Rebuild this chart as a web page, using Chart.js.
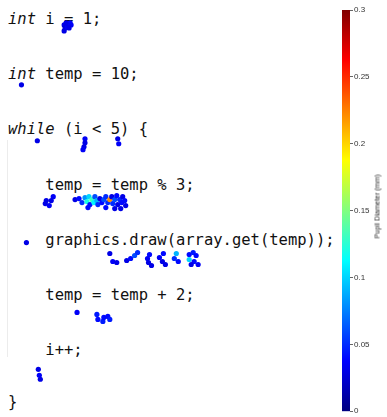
<!DOCTYPE html>
<html>
<head>
<meta charset="utf-8">
<script src="https://cdn.jsdelivr.net/npm/chart.js@4.4.0/dist/chart.umd.min.js"></script>
<style>
    html, body { margin: 0; padding: 0; background: #fff; }
    #wrap { position: relative; width: 387px; height: 417px; overflow: hidden; }
    .code {
        position: absolute;
        font-family: "DejaVu Sans Mono", monospace;
        font-size: 15.5px;
        line-height: 15.5px;
        color: #111;
        white-space: pre;
    }
    .kw { font-style: italic; }
    #block { position: absolute; left: 7px; top: 140px; width: 0; height: 217px; border-left: 1px solid #ececec; }
    #chart { position: absolute; left: 0; top: 0; }
    #cb-title {
        position: absolute;
        left: 327px; top: 203px; width: 100px;
        text-align: center;
        font-family: "Liberation Sans", Arial, sans-serif;
        font-size: 7px; color: #222;
        transform: rotate(-90deg);
    }
</style>
</head>
<body>
<div id="wrap">
    <div id="block"></div>
    <div id="code"></div>
    <canvas id="chart" width="387" height="417"></canvas>
    <div id="cb-title">Pupil Diameter (mm)</div>
</div>
<script>
// ===== DATA =====

// code lines shown under the fixations: [indent level, keyword, rest]
const codeLines = [
    [0, 'int', ' i = 1;'],
    [0, 'int', ' temp = 10;'],
    [0, 'while', ' (i < 5) {'],
    [1, '', 'temp = temp % 3;'],
    [1, '', 'graphics.draw(array.get(temp));'],
    [1, '', 'temp = temp + 2;'],
    [1, '', 'i++;'],
    [0, '', '}']
];

// fixation positions (px) and pupil diameter (mm)
const fixX = [
    62, 63, 62, 65, 66, 68, 69, 67, 64,                          // int i = 1;
    19,                                                          // int temp = 10;
    35, 83, 83, 82, 81, 116, 117,                                // while
    51, 49, 44, 43, 47,                                          // temp % 3 (left)
    73, 77, 80, 83, 85, 87, 88, 90, 92, 93, 95, 96, 98, 100, 102, 104,
    106, 108, 110, 111, 113, 115, 116, 118, 120, 121, 123, 124, 86, 104, 113, 119,
    24, 108, 111, 115, 125, 129, 133, 136, 148, 146, 147, 150,   // graphics.draw
    162, 158, 161, 164, 175, 173, 177, 188, 192, 195, 188, 193, 197, 190,
    75, 95, 96, 101, 106, 108, 102,                              // temp + 2
    36, 37, 38                                                   // i++
];
const fixY = [
    25, 28, 31, 27, 24, 23, 25, 28, 23,
    85,
    141, 139, 143, 147, 150, 139, 144,
    197, 201, 201, 204, 206,
    200, 199, 203, 198, 202, 197, 205, 200, 203, 197, 201, 205, 199, 203, 200, 197,
    203, 200, 197, 204, 200, 196, 205, 200, 203, 197, 201, 206, 208, 208, 209, 209,
    243, 254, 262, 263, 261, 259, 256, 253, 255, 259, 263, 266,
    254, 258, 262, 265, 254, 259, 262, 255, 253, 256, 260, 262, 265, 265,
    313, 315, 320, 322, 317, 320, 318,
    370, 376, 380
];
const pupil = [
    0.03, 0.025, 0.03, 0.035, 0.03, 0.04, 0.035, 0.03, 0.03,
    0.03,
    0.03, 0.035, 0.03, 0.03, 0.035, 0.03, 0.035,
    0.035, 0.03, 0.03, 0.03, 0.035,
    0.03, 0.04, 0.05, 0.08, 0.12, 0.10, 0.04, 0.13, 0.11, 0.06, 0.09, 0.05, 0.03, 0.04, 0.06, 0.05,
    0.05, 0.22, 0.03, 0.05, 0.06, 0.04, 0.03, 0.05, 0.04, 0.03, 0.04, 0.03, 0.04, 0.04, 0.03, 0.03,
    0.03, 0.03, 0.035, 0.03, 0.03, 0.04, 0.06, 0.05, 0.04, 0.035, 0.03, 0.03,
    0.04, 0.035, 0.03, 0.03, 0.09, 0.05, 0.04, 0.04, 0.045, 0.04, 0.10, 0.04, 0.035, 0.03,
    0.035, 0.045, 0.04, 0.045, 0.04, 0.045, 0.04,
    0.03, 0.035, 0.03
];

// colour bar
const cbMin = 0;
const cbMax = 0.3;
const cbStep = 0.05;

// ===== LAYOUT =====

const LINE0 = 25;      // baseline of first code line
const LINE_GAP = 55.2;
const CHAR_W = 9.33;

/** MATLAB style jet colormap, t in [0,1] */
function jet(t) {
    const c = v => Math.round(255 * Math.max(0, Math.min(1, v)));
    const r = c(1.5 - Math.abs(4 * t - 3));
    const g = c(1.5 - Math.abs(4 * t - 2));
    const b = c(1.5 - Math.abs(4 * t - 1));
    return `rgb(${r},${g},${b})`;
}

/** Put the code lines in place as real text */
function renderCode() {
    const holder = document.getElementById('code');
    codeLines.forEach(([indent, kw, rest], i) => {
        const el = document.createElement('div');
        el.className = 'code';
        el.style.left = (8 + indent * 4 * CHAR_W) + 'px';
        el.style.top = (LINE0 + i * LINE_GAP - 13.1 - (i === 7 ? 3 : 0)) + 'px';
        if (kw) {
            const k = document.createElement('span');
            k.className = 'kw';
            k.textContent = kw;
            el.appendChild(k);
        }
        el.appendChild(document.createTextNode(rest));
        holder.appendChild(el);
    });
}

const colorbarPlugin = {
    id: 'colorbar',
    beforeDatasetsDraw(chart) {
        const s = chart.scales.cb;
        const ctx = chart.ctx;
        const top = s.getPixelForValue(cbMax);
        const bottom = s.getPixelForValue(cbMin);
        const grad = ctx.createLinearGradient(0, bottom, 0, top);
        for (let i = 0; i <= 40; i++) grad.addColorStop(i / 40, jet(i / 40));
        ctx.save();
        ctx.fillStyle = grad;
        ctx.fillRect(s.left - 8, top, 8, bottom - top);
        ctx.restore();
    }
};

function renderChart() {
    const points = fixX.map((x, i) => ({ x: x, y: fixY[i] }));
    new Chart(document.getElementById('chart'), {
        type: 'scatter',
        data: {
            datasets: [{
                data: points,
                backgroundColor: pupil.map(p => jet((p - cbMin) / (cbMax - cbMin))),
                borderWidth: 0,
                pointRadius: 2.6,
                pointHoverRadius: 2.6
            }]
        },
        options: {
            responsive: false,
            animation: false,
            devicePixelRatio: 1,
            layout: { padding: { top: 10, bottom: 5, left: 0, right: 0 } },
            plugins: { legend: { display: false }, tooltip: { enabled: false } },
            events: [],
            scales: {
                x: { type: 'linear', min: 0, max: 350, display: false },
                y: { type: 'linear', min: 10, max: 412, reverse: true, display: false },
                cb: {
                    type: 'linear',
                    position: 'right',
                    min: cbMin, max: cbMax,
                    afterFit: (scale) => { scale.width = 37; },
                    border: { display: false },
                    grid: { drawOnChartArea: false, tickLength: 3, color: '#666' },
                    ticks: {
                        stepSize: cbStep,
                        padding: 1,
                        color: '#333',
                        font: { family: '"Liberation Sans", Arial, sans-serif', size: 8 },
                        callback: (val) => String(parseFloat(val.toFixed(2)))
                    }
                }
            }
        },
        plugins: [colorbarPlugin]
    });
}

renderCode();
renderChart();
</script>
</body>
</html>
